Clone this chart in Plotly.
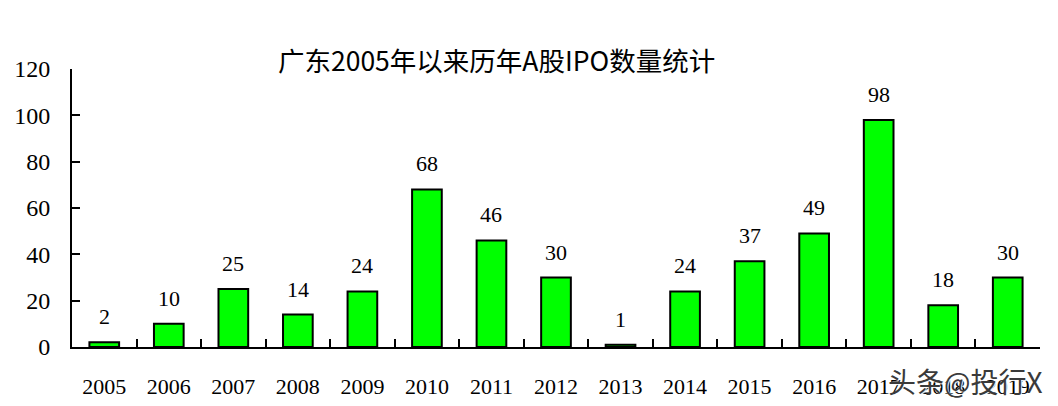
import plotly.graph_objects as go

years = ["2005", "2006", "2007", "2008", "2009", "2010", "2011", "2012",
         "2013", "2014", "2015", "2016", "2017", "2018", "2019"]
ipo_counts = [2, 10, 25, 14, 24, 68, 46, 30, 1, 24, 37, 49, 98, 18, 30]
y_ticks = [0, 20, 40, 60, 80, 100, 120]
title_text = "广东2005年以来历年A股IPO数量统计"
watermark = "头条@投行X"

serif = "Liberation Serif, Times New Roman, serif"

fig = go.Figure()
fig.add_trace(go.Bar(
    x=years, y=ipo_counts,
    marker=dict(color="#00FF00", line=dict(color="black", width=2)),
    width=0.46,
    hoverinfo="skip",
))

for i, v in enumerate(ipo_counts):
    fig.add_annotation(x=i, y=v, text=str(v), showarrow=False,
                       yanchor="bottom", yshift=11,
                       font=dict(family=serif, size=22, color="black"))

fig.add_annotation(xref="paper", yref="paper", x=0.439, xanchor="center",
                   y=1.0, text=title_text,
                   showarrow=False, yanchor="bottom", yshift=-12,
                   font=dict(family="Noto Sans CJK SC", size=26.5, color="black"))

fig.add_annotation(xref="paper", yref="paper", x=0.923, xanchor="center",
                   y=-0.122, text=watermark,
                   showarrow=False, yanchor="middle",
                   font=dict(family="Noto Sans CJK SC", size=28, color="#3a3a3a",
                             shadow="1px 1px 1px white"))

fig.update_layout(
    width=1058, height=406,
    margin=dict(l=72, r=18, t=69, b=59),
    plot_bgcolor="white", paper_bgcolor="white",
    showlegend=False,
    bargap=0.54,
    xaxis=dict(
        type="category", range=[-0.5, len(years) - 0.5], automargin=False,
        tickson="boundaries", ticks="inside", ticklen=8,
        tickwidth=1.5, tickcolor="black", tickangle=0,
        showline=True, linecolor="black", linewidth=2,
        showgrid=False, ticklabelstandoff=19,
        tickfont=dict(family=serif, size=22, color="black"),
    ),
    yaxis=dict(
        range=[0, 120], tickvals=y_ticks, ticks="inside", ticklen=8,
        tickwidth=1.5, tickcolor="black", automargin=False,
        showline=True, linecolor="black", linewidth=2,
        showgrid=False, zeroline=False, ticklabelstandoff=15,
        tickfont=dict(family=serif, size=24, color="black"),
    ),
)

fig.write_html("out.html", config={"displayModeBar": False},
               post_script="document.body.style.margin='0';")
